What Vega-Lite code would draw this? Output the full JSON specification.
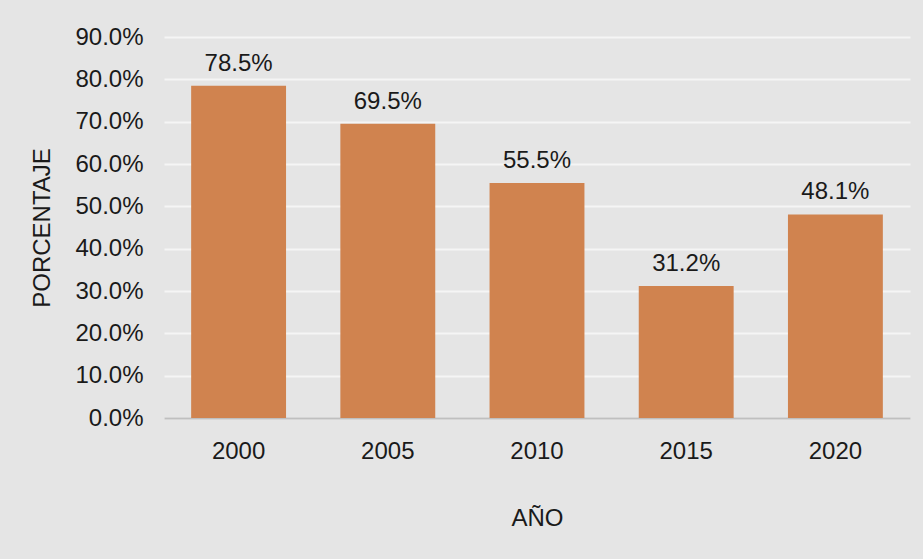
{
  "$schema": "https://vega.github.io/schema/vega-lite/v6.json",
  "width": 746,
  "height": 381,
  "autosize": {"type": "none"},
  "padding": {"left": 164, "top": 37, "right": 13, "bottom": 141},
  "background": "#e5e5e5",
  "config": {
    "view": {"stroke": null},
    "font": "Liberation Sans",
    "axis": {"labelFont": "Liberation Sans", "titleFont": "Liberation Sans", "labelColor": "#1a1a1a", "titleColor": "#1a1a1a", "titleFontWeight": "normal"}
  },
  "data": {"values": [
    {"year": "2000", "pct": 0.785},
    {"year": "2005", "pct": 0.695},
    {"year": "2010", "pct": 0.555},
    {"year": "2015", "pct": 0.312},
    {"year": "2020", "pct": 0.481}
  ]},
  "encoding": {
    "x": {"field": "year", "type": "nominal", "scale": {"paddingInner": 0.364, "paddingOuter": 0.182},
      "axis": {"title": "AÑO", "labelAngle": 0, "labelFontSize": 24, "titleFontSize": 24, "ticks": false, "labelPadding": 21, "titlePadding": 43, "domainColor": "#bfbfbf", "domainWidth": 2, "grid": false}},
    "y": {"field": "pct", "type": "quantitative", "scale": {"domain": [0, 0.9], "nice": false},
      "axis": {"title": "PORCENTAJE", "format": ".1%", "values": [0, 0.1, 0.2, 0.3, 0.4, 0.5, 0.6, 0.7, 0.8, 0.9], "labelFontSize": 24, "titleFontSize": 24, "ticks": false, "labelPadding": 21, "titlePadding": 20, "domain": false, "grid": true, "gridColor": "#f5f5f5", "gridWidth": 2}}
  },
  "layer": [
    {"mark": {"type": "bar", "color": "#d0834f"}},
    {"mark": {"type": "text", "fontSize": 24, "color": "#1a1a1a", "baseline": "alphabetic", "dy": -15, "font": "Liberation Sans"},
     "encoding": {"text": {"field": "pct", "type": "quantitative", "format": ".1%"}}}
  ]
}
